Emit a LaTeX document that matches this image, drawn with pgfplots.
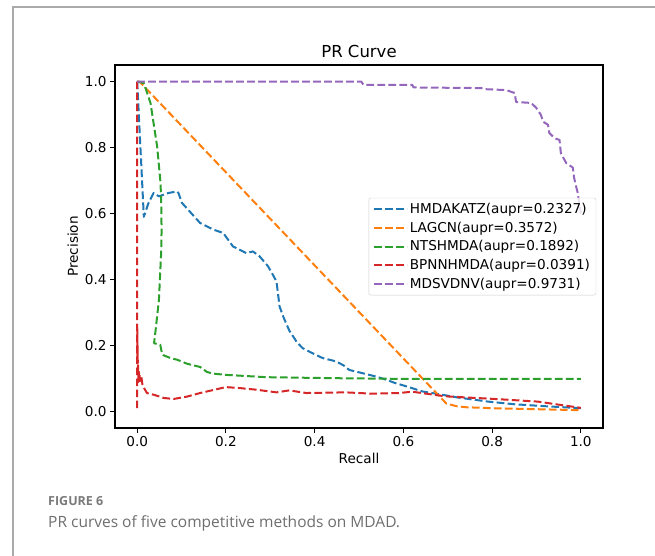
\documentclass[border=0pt]{standalone}
\usepackage{fontspec}
\setmainfont{DejaVu Sans}
\newfontfamily\capfont{Open Sans}
\usepackage{pgfplots}
\pgfplotsset{compat=1.18}
\definecolor{mblue}{HTML}{1F77B4}
\definecolor{morange}{HTML}{FF7F0E}
\definecolor{mgreen}{HTML}{2CA02C}
\definecolor{mred}{HTML}{D62728}
\definecolor{mpurple}{HTML}{9467BD}
\definecolor{capgray}{HTML}{6E6E6E}
\definecolor{figgray}{HTML}{7A7A7A}
\definecolor{framegray}{HTML}{AAAAAA}
\begin{document}
\begin{tikzpicture}[x=1pt,y=1pt]
\useasboundingbox (0,0) rectangle (655,-556);
\draw[framegray, line width=1.2pt] (13,-560) -- (13,-7) -- (660,-7);
\begin{axis}[
  at={(115pt,-428pt)}, anchor=south west,
  scale only axis, width=488pt, height=363pt,
  xmin=-0.05, xmax=1.05, ymin=-0.05, ymax=1.05,
  xtick={0,0.2,0.4,0.6,0.8,1.0}, ytick={0,0.2,0.4,0.6,0.8,1.0},
  xticklabel style={/pgf/number format/.cd, fixed, fixed zerofill, precision=1},
  yticklabel style={/pgf/number format/.cd, fixed, fixed zerofill, precision=1},
  /pgf/number format/assume math mode=true,
  tick label style={font=\fontsize{13.6}{16}\selectfont},
  tick align=outside, major tick length=4.9pt,
  tick style={black, line width=1.1pt},
  axis line style={black, line width=1.1pt},
  xtick pos=bottom, ytick pos=left,
  label style={font=\fontsize{13.6}{16}\selectfont},
  xlabel={Recall}, ylabel={Precision},
  title={PR Curve},
  title style={font=\fontsize{16.5}{19}\selectfont, yshift=-2pt},
  every axis plot/.append style={line width=2pt, dash pattern=on 7.7pt off 3.3pt, line join=round},
  legend style={at={(0.986,0.5)}, anchor=east, draw=black!20, rounded corners=2pt,
    fill=white, fill opacity=0.8, text opacity=1,
    font=\fontsize{13.6}{16}\selectfont, row sep=3pt, inner xsep=4pt, inner ysep=3pt,
    cells={anchor=west}},
  legend image code/.code={\draw[#1, line width=2pt, dash pattern=on 7.7pt off 3.3pt] (0pt,0pt) -- (27pt,0pt); \path (0pt,0pt) -- (33pt,0pt);},
]
% HMDAKATZ
\addplot[mblue] coordinates {
(0,1) (0.015,0.59) (0.025,0.63) (0.037,0.662) (0.049,0.652) (0.07,0.662) (0.09,0.667) (0.093,0.662)
(0.101,0.632) (0.142,0.571) (0.172,0.551) (0.194,0.541) (0.216,0.5) (0.231,0.49) (0.246,0.48)
(0.261,0.485) (0.276,0.47) (0.295,0.44) (0.306,0.414) (0.314,0.394) (0.321,0.318) (0.33,0.285)
(0.343,0.245) (0.36,0.21) (0.373,0.192) (0.39,0.18) (0.418,0.162) (0.448,0.152) (0.465,0.14)
(0.478,0.126) (0.508,0.116) (0.538,0.106) (0.56,0.097) (0.582,0.086) (0.61,0.075) (0.642,0.061)
(0.687,0.051) (0.72,0.043) (0.791,0.030) (0.85,0.022) (0.92,0.016) (1.0,0.01)
};
% LAGCN
\addplot[morange] coordinates {
(0,1) (0.005,1) (0.697,0.024) (0.72,0.016) (0.74,0.013) (0.8,0.010) (0.9,0.007) (1.0,0.004)
};
% NTSHMDA
\addplot[mgreen] coordinates {
(0,1) (0.015,0.995) (0.030,0.935) (0.045,0.803) (0.052,0.702) (0.054,0.652) (0.055,0.55) (0.054,0.48)
(0.049,0.338) (0.041,0.24) (0.038,0.207) (0.052,0.202) (0.056,0.175) (0.06,0.170) (0.075,0.162)
(0.09,0.157) (0.112,0.145) (0.142,0.135) (0.157,0.12) (0.17,0.115) (0.2,0.111) (0.291,0.104)
(0.44,0.101) (0.59,0.099) (0.8,0.099) (1.0,0.099)
};
% BPNNHMDA
\addplot[mred] coordinates {
(0,1) (0,0.005) (0.0003,0.25) (0.0006,0.16) (0.001,0.2) (0.0015,0.12) (0.002,0.14) (0.003,0.09)
(0.004,0.12) (0.005,0.095) (0.006,0.112) (0.007,0.092) (0.008,0.108) (0.010,0.1) (0.012,0.08)
(0.016,0.07) (0.022,0.056) (0.03,0.053)
(0.037,0.051) (0.06,0.041) (0.082,0.038) (0.112,0.045) (0.142,0.056) (0.2,0.074) (0.231,0.071)
(0.269,0.066) (0.314,0.058) (0.343,0.064) (0.381,0.056) (0.47,0.058) (0.53,0.054) (0.59,0.056)
(0.62,0.060) (0.694,0.046) (0.806,0.038) (0.903,0.030) (1.0,0.011)
};
% MDSVDNV
\addplot[mpurple] coordinates {
(0,1) (0.505,1.0) (0.51,0.99) (0.62,0.99) (0.623,0.982) (0.776,0.98) (0.78,0.977) (0.832,0.974)
(0.851,0.965) (0.854,0.938) (0.888,0.935) (0.899,0.921) (0.910,0.899) (0.915,0.878) (0.926,0.869)
(0.929,0.844) (0.941,0.828) (0.952,0.823) (0.955,0.783) (0.967,0.753) (0.982,0.739) (0.985,0.707)
(0.993,0.662) (1.0,0.6)
};
\legend{HMDAKATZ(aupr=0.2327), LAGCN(aupr=0.3572), NTSHMDA(aupr=0.1892), BPNNHMDA(aupr=0.0391), MDSVDNV(aupr=0.9731)}
\end{axis}
\node[anchor=base west, inner sep=0, text=figgray] at (48,-505) {\capfont\bfseries\fontsize{12.5}{14}\selectfont FIGURE 6};
\node[anchor=base west, inner sep=0, text=capgray] at (48,-527) {\capfont\fontsize{15.5}{18}\selectfont PR curves of five competitive methods on MDAD.};
\end{tikzpicture}
\end{document}
